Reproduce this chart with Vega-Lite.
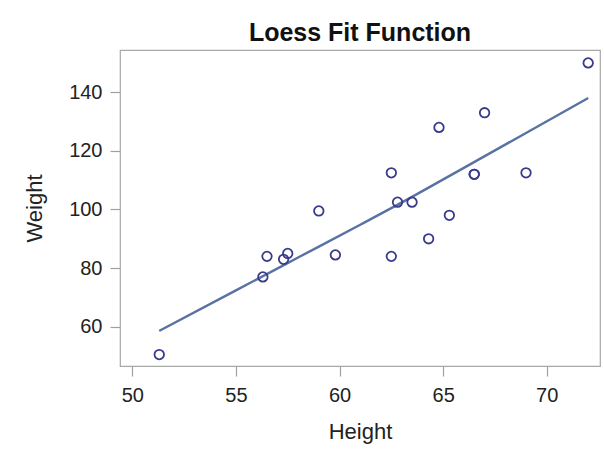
{
  "$schema": "https://vega.github.io/schema/vega-lite/v6.json",
  "autosize": {"type": "none"},
  "width": 480,
  "height": 316,
  "padding": {"left": 120, "top": 50, "right": 4, "bottom": 90},
  "background": "white",
  "title": {"text": "Loess Fit Function", "fontSize": 25, "fontWeight": "bold", "font": "Liberation Sans", "color": "#111111", "anchor": "middle", "offset": 4},
  "datasets": {
    "pts": [
      {"Height": 69.0, "Weight": 112.5},
      {"Height": 56.5, "Weight": 84.0},
      {"Height": 65.3, "Weight": 98.0},
      {"Height": 62.8, "Weight": 102.5},
      {"Height": 63.5, "Weight": 102.5},
      {"Height": 57.3, "Weight": 83.0},
      {"Height": 59.8, "Weight": 84.5},
      {"Height": 62.5, "Weight": 112.5},
      {"Height": 62.5, "Weight": 84.0},
      {"Height": 59.0, "Weight": 99.5},
      {"Height": 51.3, "Weight": 50.5},
      {"Height": 64.3, "Weight": 90.0},
      {"Height": 56.3, "Weight": 77.0},
      {"Height": 66.5, "Weight": 112.0},
      {"Height": 72.0, "Weight": 150.0},
      {"Height": 64.8, "Weight": 128.0},
      {"Height": 67.0, "Weight": 133.0},
      {"Height": 57.5, "Weight": 85.0},
      {"Height": 66.5, "Weight": 112.0}
    ],
    "fit": [
      {"Height": 51.3, "Weight": 58.6},
      {"Height": 55.0, "Weight": 72.4},
      {"Height": 58.0, "Weight": 83.6},
      {"Height": 61.0, "Weight": 94.8},
      {"Height": 63.5, "Weight": 104.3},
      {"Height": 66.0, "Weight": 114.2},
      {"Height": 69.0, "Weight": 126.1},
      {"Height": 72.0, "Weight": 138.0}
    ]
  },
  "layer": [
    {
      "data": {"name": "fit"},
      "mark": {"type": "line", "color": "#5872a3", "strokeWidth": 2.4, "interpolate": "monotone"},
      "encoding": {
        "x": {"field": "Height", "type": "quantitative"},
        "y": {"field": "Weight", "type": "quantitative"}
      }
    },
    {
      "data": {"name": "pts"},
      "mark": {"type": "point", "shape": "circle", "filled": false, "color": "#3a3a8c", "size": 90, "strokeWidth": 1.8, "opacity": 1},
      "encoding": {
        "x": {"field": "Height", "type": "quantitative"},
        "y": {"field": "Weight", "type": "quantitative"}
      }
    }
  ],
  "encoding": {
    "x": {"field": "Height", "type": "quantitative", "scale": {"domain": [49.406, 72.57], "nice": false, "zero": false},
      "axis": {"values": [50, 55, 60, 65, 70], "title": "Height", "titlePadding": 16, "labelPadding": 9}},
    "y": {"field": "Weight", "type": "quantitative", "scale": {"domain": [46.6, 154.4], "nice": false, "zero": false},
      "axis": {"values": [60, 80, 100, 120, 140], "title": "Weight", "titlePadding": 22, "labelPadding": 8}}
  },
  "config": {
    "view": {"stroke": "#a8a8a8", "strokeWidth": 1.2},
    "axis": {
      "domain": false,
      "grid": false,
      "ticks": true,
      "tickColor": "#a0a0a0",
      "tickSize": 10,
      "tickWidth": 1.2,
      "labelFont": "Liberation Sans",
      "labelFontSize": 20,
      "labelColor": "#222222",
      "titleFont": "Liberation Sans",
      "titleFontSize": 22,
      "titleFontWeight": "normal",
      "titleColor": "#222222"
    }
  }
}
